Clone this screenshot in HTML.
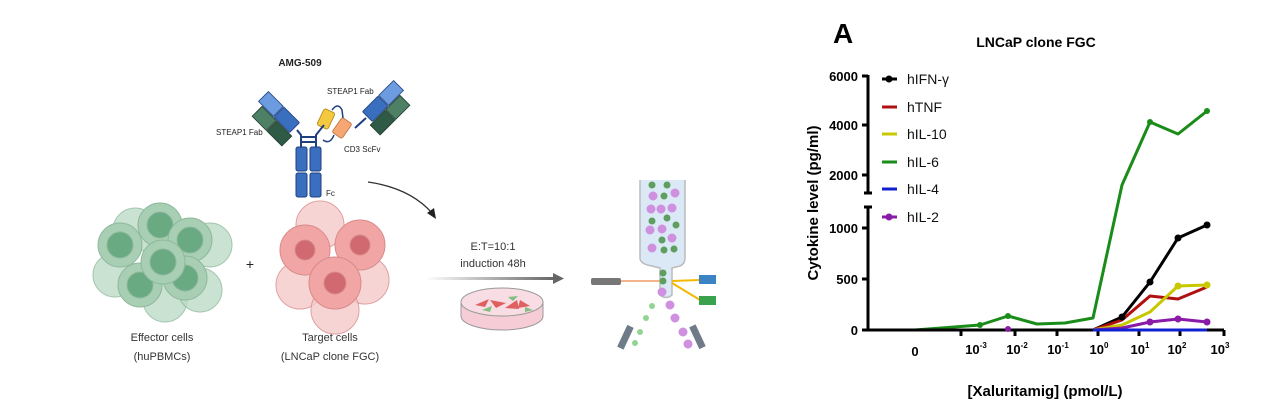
<!DOCTYPE html>
<html><head><meta charset="utf-8"><style>
html,body{margin:0;padding:0;background:#fff;}
svg{display:block;font-family:"Liberation Sans",sans-serif;}
</style></head><body>
<svg width="1269" height="412" viewBox="0 0 1269 412" xmlns="http://www.w3.org/2000/svg">
<rect width="1269" height="412" fill="#fff"/>
<text x="300" y="66" font-size="10" font-weight="bold" text-anchor="middle" fill="#222">AMG-509</text>
<g stroke="#1e3f80" stroke-width="1">
<rect x="296" y="147" width="11" height="24" rx="2" fill="#3a6fbf"/>
<rect x="310" y="147" width="11" height="24" rx="2" fill="#3a6fbf"/>
<rect x="296" y="173" width="11" height="24" rx="2" fill="#3a6fbf"/>
<rect x="310" y="173" width="11" height="24" rx="2" fill="#3a6fbf"/>
</g>
<path d="M301 147 L301 135 L297 130 M316 147 L316 135 L320 130 M301 137 H316 M301 142 H316" stroke="#1e3f80" stroke-width="2" fill="none"/>
<g transform="translate(296,129) rotate(-45)">
<rect x="-7" y="-24" width="14" height="22" rx="1" fill="#3a6fbf" stroke="#1e3f80" stroke-width="0.8"/>
<rect x="-7" y="-46" width="14" height="21" fill="#6c9be0" stroke="#1e3f80" stroke-width="0.8"/>
<rect x="-22" y="-19" width="14" height="21" fill="#2f5a45" stroke="#1d3a2c" stroke-width="0.8"/>
<rect x="-22" y="-40" width="14" height="20" fill="#4e8066" stroke="#1d3a2c" stroke-width="0.8"/>
</g>
<g transform="translate(366,118) rotate(45)">
<rect x="-7" y="-24" width="14" height="22" rx="1" fill="#3a6fbf" stroke="#1e3f80" stroke-width="0.8"/>
<rect x="-7" y="-46" width="14" height="21" fill="#6c9be0" stroke="#1e3f80" stroke-width="0.8"/>
<rect x="8" y="-19" width="14" height="21" fill="#2f5a45" stroke="#1d3a2c" stroke-width="0.8"/>
<rect x="8" y="-40" width="14" height="20" fill="#4e8066" stroke="#1d3a2c" stroke-width="0.8"/>
</g>
<path d="M366 118 L355 128" stroke="#1e3f80" stroke-width="2"/>
<rect x="320" y="110" width="12" height="18" rx="2" transform="rotate(25 326 119)" fill="#f5c842" stroke="#a78513" stroke-width="0.8"/>
<rect x="336" y="119" width="12" height="18" rx="2" transform="rotate(35 342 128)" fill="#f7a774" stroke="#b76b3a" stroke-width="0.8"/>
<path d="M332 110 Q338 102 342 110 L343 118 M334 135 Q330 145 323 140" stroke="#1e3f80" stroke-width="1.5" fill="none"/>
<path d="M320 130 L324 125" stroke="#1e3f80" stroke-width="2"/>
<text x="216" y="135" font-size="8" fill="#222">STEAP1 Fab</text>
<text x="327" y="94" font-size="8" fill="#222">STEAP1 Fab</text>
<text x="344" y="152" font-size="8" fill="#222">CD3 ScFv</text>
<text x="326" y="196" font-size="8" fill="#222">Fc</text>
<path d="M368 182 Q410 188 432 213" stroke="#333" stroke-width="1.3" fill="none"/>
<path d="M436 219 L427 213 L434 208 Z" fill="#222"/>
<g stroke="#8fb89c" stroke-width="1">
<circle cx="135" cy="230" r="22" fill="#bcdbc6" opacity="0.8"/>
<circle cx="210" cy="245" r="22" fill="#bcdbc6" opacity="0.8"/>
<circle cx="165" cy="300" r="22" fill="#bcdbc6" opacity="0.8"/>
<circle cx="115" cy="275" r="22" fill="#bcdbc6" opacity="0.8"/>
<circle cx="200" cy="290" r="22" fill="#bcdbc6" opacity="0.8"/>
<circle cx="120" cy="245" r="22" fill="#a8cfb4"/><circle cx="120" cy="245" r="13" fill="#6aaa83"/>
<circle cx="160" cy="225" r="22" fill="#a8cfb4"/><circle cx="160" cy="225" r="13" fill="#6aaa83"/>
<circle cx="190" cy="240" r="22" fill="#a8cfb4"/><circle cx="190" cy="240" r="13" fill="#6aaa83"/>
<circle cx="140" cy="285" r="22" fill="#a8cfb4"/><circle cx="140" cy="285" r="13" fill="#6aaa83"/>
<circle cx="185" cy="278" r="22" fill="#a8cfb4"/><circle cx="185" cy="278" r="13" fill="#6aaa83"/>
<circle cx="163" cy="262" r="22" fill="#a8cfb4"/><circle cx="163" cy="262" r="13" fill="#6aaa83"/>
</g>
<text x="250" y="269" font-size="14" text-anchor="middle" fill="#222">+</text>
<g stroke="#d88a8a" stroke-width="1">
<circle cx="320" cy="225" r="24" fill="#f6caca" opacity="0.8"/>
<circle cx="300" cy="285" r="24" fill="#f6caca" opacity="0.8"/>
<circle cx="365" cy="280" r="24" fill="#f6caca" opacity="0.8"/>
<circle cx="335" cy="310" r="24" fill="#f6caca" opacity="0.8"/>
<circle cx="305" cy="250" r="25" fill="#f2a5a5"/><circle cx="305" cy="250" r="10" fill="#d06a70"/>
<circle cx="360" cy="245" r="25" fill="#f2a5a5"/><circle cx="360" cy="245" r="10" fill="#d06a70"/>
<circle cx="335" cy="283" r="26" fill="#f2a5a5"/><circle cx="335" cy="283" r="11" fill="#d06a70"/>
</g>
<g font-size="11" fill="#333" text-anchor="middle">
<text x="162" y="341">Effector cells</text><text x="162" y="360">(huPBMCs)</text>
<text x="330" y="341">Target cells</text><text x="330" y="360">(LNCaP clone FGC)</text>
<text x="493" y="250">E:T=10:1</text><text x="493" y="267">induction 48h</text>
</g>
<defs><linearGradient id="ga" x1="0" x2="1"><stop offset="0" stop-color="#fff"/><stop offset="1" stop-color="#666"/></linearGradient></defs>
<rect x="425" y="277" width="130" height="3" fill="url(#ga)"/>
<path d="M553 273 L564 278.5 L553 284 Z" fill="#666"/>
<ellipse cx="502" cy="316" rx="41" ry="14" fill="#f6cdd7" stroke="#999"/>
<rect x="461" y="302" width="82" height="14" fill="#f6cdd7"/>
<ellipse cx="502" cy="302" rx="41" ry="14" fill="#f9dde4" stroke="#999"/>
<line x1="461" y1="302" x2="461" y2="316" stroke="#999"/><line x1="543" y1="302" x2="543" y2="316" stroke="#999"/>
<g fill="#e06060"><path d="M475 305 l14 -6 l-4 8z"/><path d="M490 300 l16 3 l-10 5z"/><path d="M505 308 l12 -8 l2 9z"/><path d="M520 300 l10 6 l-12 2z"/></g>
<g fill="#7fbf7f"><path d="M482 310 l10 -4 l-2 6z"/><path d="M508 297 l10 -1 l-5 5z"/><path d="M525 307 l8 3 l-8 2z"/></g>
<path d="M640 180 L640 258 Q640 264 652 266 L660 268 L660 295 Q666 300 672 295 L672 268 L680 266 Q685 264 685 258 L685 180" fill="#dbe9f7" stroke="#bbb" stroke-width="1.5"/>
<g fill="#5e9e5e"><circle cx="652" cy="185" r="3.5"/><circle cx="667" cy="185" r="3.5"/><circle cx="664" cy="196" r="3.5"/><circle cx="652" cy="221" r="3.5"/><circle cx="667" cy="218" r="3.5"/><circle cx="676" cy="225" r="3.5"/><circle cx="662" cy="240" r="3.5"/><circle cx="664" cy="250" r="3.5"/><circle cx="674" cy="249" r="3.5"/><circle cx="663" cy="273" r="3.5"/><circle cx="663" cy="281" r="3.5"/></g>
<g fill="#cf90df"><circle cx="653" cy="196" r="4.5"/><circle cx="675" cy="193" r="4.5"/><circle cx="651" cy="209" r="4.5"/><circle cx="661" cy="209" r="4.5"/><circle cx="672" cy="208" r="4.5"/><circle cx="650" cy="230" r="4.5"/><circle cx="662" cy="229" r="4.5"/><circle cx="672" cy="238" r="4.5"/><circle cx="652" cy="248" r="4.5"/><circle cx="662" cy="292" r="4.5"/><circle cx="670" cy="305" r="4.5"/><circle cx="675" cy="318" r="4.5"/><circle cx="683" cy="332" r="4.5"/><circle cx="688" cy="344" r="4.5"/></g>
<g fill="#92d592"><circle cx="652" cy="306" r="3"/><circle cx="646" cy="318" r="3"/><circle cx="640" cy="332" r="3"/><circle cx="635" cy="343" r="3"/></g>
<rect x="591" y="278" width="30" height="7" rx="2" fill="#777"/>
<line x1="621" y1="281" x2="660" y2="281" stroke="#e84" stroke-width="1.2"/>
<path d="M672 281 L700 280 M672 283 L700 300" stroke="#f5b800" stroke-width="2"/>
<rect x="699" y="275" width="17" height="9" fill="#3b83c3"/><rect x="699" y="296" width="17" height="9" fill="#3aa14c"/>
<rect x="622" y="325" width="7" height="24" fill="#6f7b89" transform="rotate(25 625 337)"/>
<rect x="694" y="325" width="7" height="24" fill="#6f7b89" transform="rotate(-25 697 337)"/>
<text x="833" y="43" font-size="28" font-weight="bold" fill="#000">A</text>
<text x="1036" y="47" font-size="14" font-weight="bold" text-anchor="middle">LNCaP clone FGC</text>
<g stroke="#000" stroke-width="3" fill="none">
<path d="M868 75 V193 M868 207 V331"/>
<path d="M862 76 H868 M862 125 H868 M862 175 H868 M862 228 H868 M862 279 H868 M862 330 H868"/>
<path d="M866 330 H963 M974 330 H1224"/>
<path d="M961 330 V336 M1224 330 V336 M1015 330 V336 M1057 330 V336 M1098 330 V336 M1139 330 V336 M1180 330 V336"/>
<path d="M864 193 H872 M864 207 H872"/>
</g>
<g font-size="13" font-weight="bold" text-anchor="end">
<text x="858" y="81">6000</text><text x="858" y="130">4000</text><text x="858" y="180">2000</text>
<text x="858" y="233">1000</text><text x="858" y="284">500</text><text x="858" y="335">0</text>
</g>
<g font-size="13" font-weight="bold" text-anchor="middle">
<text x="915" y="356">0</text>
<text x="976" y="354">10<tspan font-size="8" dy="-6">-3</tspan></text>
<text x="1017" y="354">10<tspan font-size="8" dy="-6">-2</tspan></text>
<text x="1058" y="354">10<tspan font-size="8" dy="-6">-1</tspan></text>
<text x="1099" y="354">10<tspan font-size="8" dy="-6">0</tspan></text>
<text x="1140" y="354">10<tspan font-size="8" dy="-6">1</tspan></text>
<text x="1177" y="354">10<tspan font-size="8" dy="-6">2</tspan></text>
<text x="1220" y="354">10<tspan font-size="8" dy="-6">3</tspan></text>
</g>
<text x="1045" y="396" font-size="15" font-weight="bold" text-anchor="middle">[Xaluritamig] (pmol/L)</text>
<text transform="translate(818 203) rotate(-90)" font-size="15" font-weight="bold" text-anchor="middle">Cytokine level (pg/ml)</text>
<g fill="none" stroke-width="3" stroke-linejoin="round">
<polyline stroke="#1a8c1a" points="915,330 980,325 1008,316 1037,324 1065,323 1093,318 1122,185 1150,122 1178,134 1207,111"/>
<polyline stroke="#000" points="915,330 1093,330 1122,317 1150,282 1178,238 1207,225"/>
<polyline stroke="#b01010" points="1093,330 1122,320 1150,296 1178,299 1207,287"/>
<polyline stroke="#c8c800" points="1093,330 1122,325 1150,312 1178,286 1207,285"/>
<polyline stroke="#8a1aa8" points="1093,330 1122,328 1150,322 1178,319 1207,322"/>
<polyline stroke="#1020d0" points="1093,330 1207,330"/>
</g>
<g fill="#1a8c1a"><circle cx="980" cy="325" r="3"/><circle cx="1008" cy="316" r="3"/><circle cx="1150" cy="122" r="3"/><circle cx="1207" cy="111" r="3"/></g>
<g fill="#000"><circle cx="1150" cy="282" r="3.5"/><circle cx="1178" cy="238" r="3.5"/><circle cx="1207" cy="225" r="3.5"/><circle cx="1122" cy="317" r="3.5"/></g>
<g fill="#8a1aa8"><circle cx="1150" cy="322" r="3.5"/><circle cx="1178" cy="319" r="3.5"/><circle cx="1207" cy="322" r="3.5"/><circle cx="1008" cy="329" r="3"/></g>
<g fill="#c8c800"><circle cx="1178" cy="286" r="3.5"/><circle cx="1207" cy="285" r="3.5"/></g>
<g stroke-width="3">
<line x1="882" y1="79" x2="897" y2="79" stroke="#000"/><circle cx="889" cy="79" r="3.5" fill="#000"/>
<line x1="882" y1="107" x2="897" y2="107" stroke="#b01010"/>
<line x1="882" y1="134" x2="897" y2="134" stroke="#c8c800"/>
<line x1="882" y1="162" x2="897" y2="162" stroke="#1a8c1a"/>
<line x1="882" y1="189" x2="897" y2="189" stroke="#1020d0"/>
<line x1="882" y1="217" x2="897" y2="217" stroke="#8a1aa8"/><circle cx="889" cy="217" r="3.5" fill="#8a1aa8"/>
</g>
<g font-size="14" fill="#111">
<text x="907" y="84">hIFN-γ</text><text x="907" y="112">hTNF</text><text x="907" y="139">hIL-10</text>
<text x="907" y="167">hIL-6</text><text x="907" y="194">hIL-4</text><text x="907" y="222">hIL-2</text>
</g>
</svg>
</body></html>
